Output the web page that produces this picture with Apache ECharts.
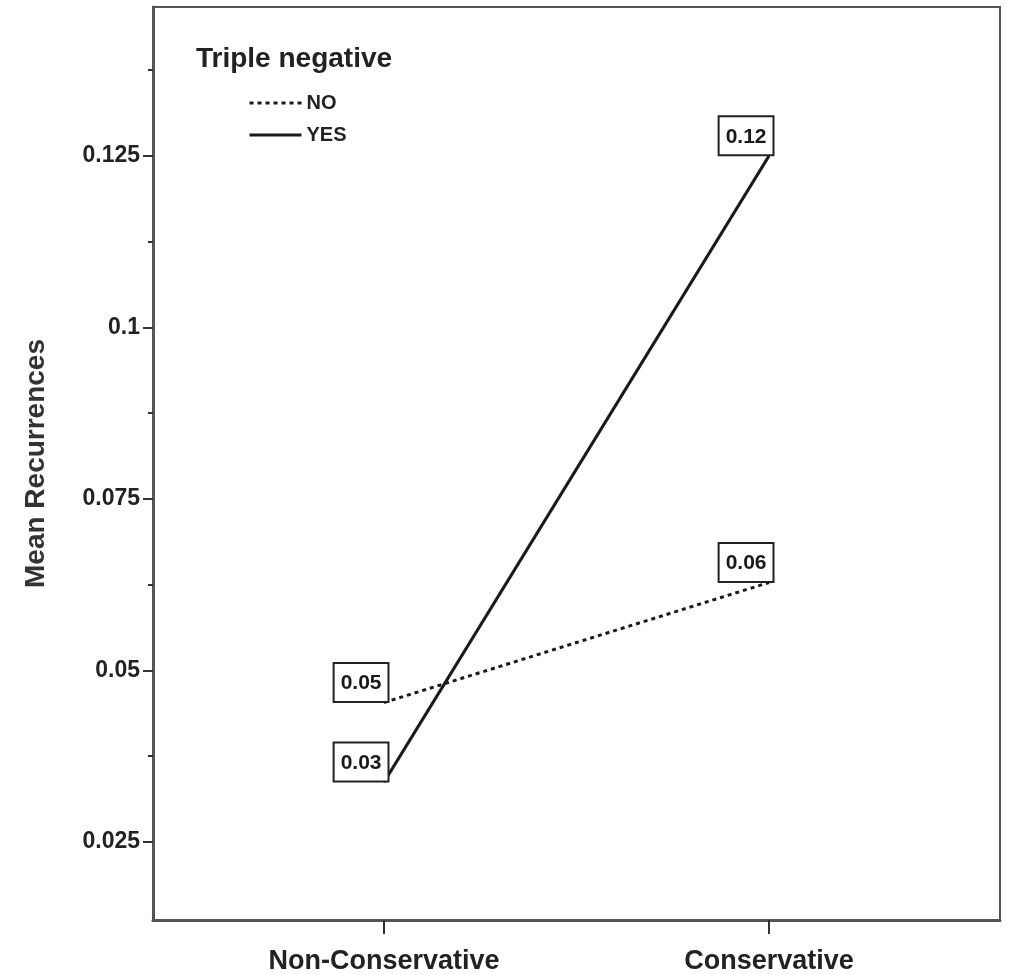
<!DOCTYPE html>
<html>
<head>
<meta charset="utf-8">
<script src="https://cdn.jsdelivr.net/npm/echarts@6/dist/echarts.min.js"></script>
<style>
  html, body { margin: 0; padding: 0; background: #fff; }
  #chart { width: 1015px; height: 975px; }
</style>
</head>
<body>
<div id="chart"></div>
<script>
// categories on the x axis
const categories = ['Non-Conservative', 'Conservative']
// mean recurrences per group
const noValues = [0.0453, 0.0628]
const yesValues = [0.0337, 0.125]
// printed value boxes
const noLabels = ['0.05', '0.06']
const yesLabels = ['0.03', '0.12']
// y axis ticks
const majorTicks = [0.025, 0.05, 0.075, 0.1, 0.125]
const minorTicks = [0.0375, 0.0625, 0.0875, 0.1125, 0.1375]

const font = 'Liberation Sans, Arial, sans-serif'
const ink = '#1a1a1a'

const toPoints = (vals) => vals.map((v, i) => [i, v])

const boxLabel = (texts) => ({
  show: true,
  position: [0, 0],
  align: 'right',
  verticalAlign: 'bottom',
  offset: [4, -1],
  formatter: (p) => texts[p.dataIndex],
  fontFamily: font,
  fontWeight: 'bold',
  fontSize: 21,
  color: ink,
  backgroundColor: '#fff',
  borderColor: '#222',
  borderWidth: 2,
  padding: [9, 6, 7, 6]
})

const chart = echarts.init(document.getElementById('chart'))
chart.setOption({
  animation: false,
  backgroundColor: '#fff',
  title: {
    text: 'Triple negative',
    left: 191,
    top: 40,
    textStyle: { fontFamily: font, fontWeight: 'bold', fontSize: 28, color: '#222' }
  },
  legend: {
    orient: 'vertical',
    left: 243,
    top: 88,
    itemWidth: 52,
    itemHeight: 14,
    itemGap: 12,
    itemStyle: { opacity: 0 },
    lineStyle: { width: 3 },
    textStyle: { fontFamily: font, fontWeight: 'bold', fontSize: 20, color: '#222' },
    data: ['NO', 'YES']
  },
  grid: {
    left: 153,
    right: 15,
    top: 7,
    bottom: 55,
    show: true,
    borderColor: '#555',
    borderWidth: 2
  },
  xAxis: {
    type: 'value',
    min: -0.6,
    max: 1.6,
    splitLine: { show: false },
    axisLine: { show: true, onZero: false, lineStyle: { color: '#555', width: 3 } },
    axisTick: {
      show: true,
      customValues: [0, 1],
      length: 14,
      lineStyle: { color: '#333', width: 2 }
    },
    axisLabel: {
      customValues: [0, 1],
      formatter: (v) => categories[Math.round(v)],
      margin: 28,
      fontFamily: font,
      fontWeight: 'bold',
      fontSize: 27,
      color: '#222'
    }
  },
  yAxis: [
    {
      type: 'value',
      min: 0.0136,
      max: 0.1467,
      name: 'Mean Recurrences',
      nameLocation: 'middle',
      nameRotate: 90,
      nameGap: 103,
      nameTextStyle: { fontFamily: font, fontWeight: 'bold', fontSize: 28, color: '#333' },
      splitLine: { show: false },
      axisLine: { show: true, onZero: false, lineStyle: { color: '#555', width: 3 } },
      axisTick: {
        show: true,
        customValues: majorTicks,
        length: 10,
        lineStyle: { color: '#333', width: 2 }
      },
      axisLabel: {
        customValues: majorTicks,
        formatter: (v) => String(v),
        margin: 13,
        fontFamily: font,
        fontWeight: 'bold',
        fontSize: 23,
        color: '#222'
      }
    },
    {
      type: 'value',
      min: 0.0136,
      max: 0.1467,
      position: 'left',
      splitLine: { show: false },
      axisLine: { show: false, onZero: false },
      axisTick: {
        show: true,
        customValues: minorTicks,
        length: 5,
        lineStyle: { color: '#333', width: 2 }
      },
      axisLabel: { show: false }
    }
  ],
  series: [
    {
      name: 'NO',
      type: 'line',
      data: toPoints(noValues),
      symbol: 'circle',
      symbolSize: 1,
      showSymbol: true,
      itemStyle: { color: ink },
      lineStyle: { color: ink, width: 3, type: [4, 4] },
      label: boxLabel(noLabels),
      z: 3
    },
    {
      name: 'YES',
      type: 'line',
      data: toPoints(yesValues),
      symbol: 'circle',
      symbolSize: 1,
      showSymbol: true,
      itemStyle: { color: ink },
      lineStyle: { color: ink, width: 3 },
      label: boxLabel(yesLabels),
      z: 4
    }
  ]
})
</script>
</body>
</html>
